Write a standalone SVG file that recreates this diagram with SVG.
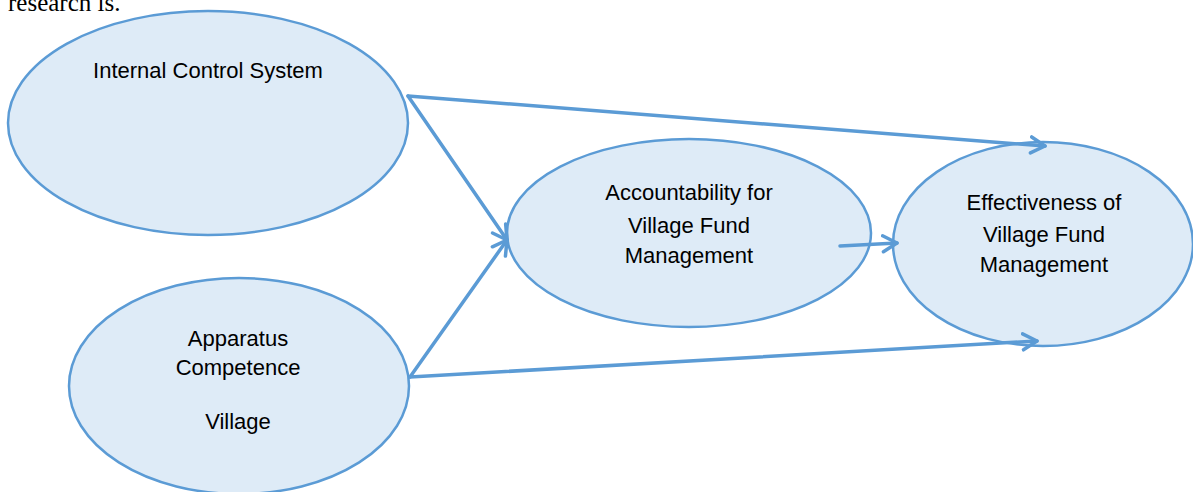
<svg xmlns="http://www.w3.org/2000/svg" width="1193" height="492" viewBox="0 0 1193 492">
<style>
.node ellipse{fill:#deebf7;stroke:#5b9bd5;stroke-width:2.5}
.lbl{font-family:"Liberation Sans",Arial,sans-serif;font-size:22px;fill:#000;text-anchor:middle}
.edge{stroke:#5b9bd5;stroke-width:3.5;fill:none;stroke-linecap:round}
</style>
<defs>
<marker id="arr" markerUnits="userSpaceOnUse" markerWidth="20" markerHeight="20" refX="16" refY="10" orient="auto" viewBox="0 0 20 20">
<path d="M2,2 L16,10 L2,18" fill="none" stroke="#5b9bd5" stroke-width="3.5" stroke-linecap="round" stroke-linejoin="round"/>
</marker>
</defs>
<rect width="1193" height="492" fill="#fff"/>
<text x="8" y="11" font-family="Liberation Serif,Times New Roman,serif" font-size="25" fill="#000">research is.</text>
<g id="n-ics" class="node">
<ellipse cx="208" cy="123" rx="200" ry="112"/>
<text class="lbl" x="208" y="78">Internal Control System</text>
</g>
<g id="n-apc" class="node">
<ellipse cx="239" cy="386" rx="170" ry="108"/>
<text class="lbl" x="238" y="346">Apparatus</text>
<text class="lbl" x="238" y="375">Competence</text>
<text class="lbl" x="238" y="429">Village</text>
</g>
<g id="n-acc" class="node">
<ellipse cx="689" cy="233" rx="182" ry="94"/>
<text class="lbl" x="689" y="200">Accountability for</text>
<text class="lbl" x="689" y="233">Village Fund</text>
<text class="lbl" x="689" y="263">Management</text>
</g>
<g id="n-eff" class="node">
<ellipse cx="1043" cy="244" rx="150" ry="102"/>
<text class="lbl" x="1044" y="210">Effectiveness of</text>
<text class="lbl" x="1044" y="242">Village Fund</text>
<text class="lbl" x="1044" y="272">Management</text>
</g>
<g id="connectors">
<line class="edge" x1="408" y1="96" x2="1045" y2="146" marker-end="url(#arr)"/>
<line class="edge" x1="408" y1="96" x2="507" y2="240" marker-end="url(#arr)"/>
<line class="edge" x1="410" y1="377" x2="507" y2="240" marker-end="url(#arr)"/>
<line class="edge" x1="410" y1="377" x2="1037" y2="341" marker-end="url(#arr)"/>
<line class="edge" x1="840" y1="246" x2="897" y2="243" marker-end="url(#arr)"/>
</g>
</svg>
